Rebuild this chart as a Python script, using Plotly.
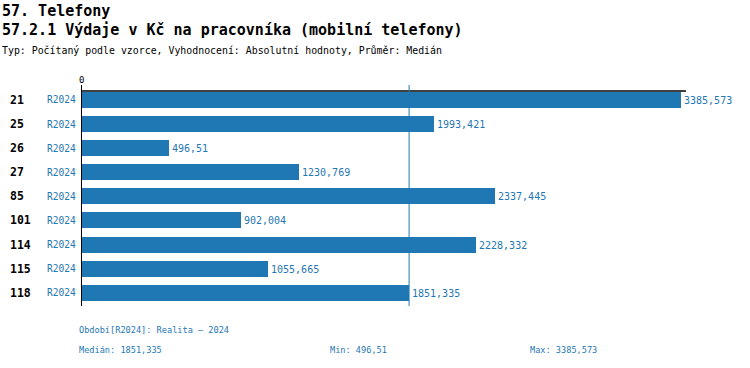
import plotly.graph_objects as go

categories = ["21", "25", "26", "27", "85", "101", "114", "115", "118"]
period_labels = ["R2024"] * 9
values = [3385.573, 1993.421, 496.51, 1230.769, 2337.445, 902.004, 2228.332, 1055.665, 1851.335]
median_value = 1851.335
min_value = 496.51
max_value = 3385.573
x_max = 3414

BLUE = "#1f77b4"
FONT = "DejaVu Sans Mono"

def fmt(v):
    s = ("%.3f" % v).rstrip("0").rstrip(".")
    return s.replace(".", ",")

ypos = list(range(len(categories)))

W0, W1 = 81, 686
T0, T1 = 85.4, 306.2
def px(x):
    return (x - W0) / (W1 - W0)
def py(y):
    return (T1 - y) / (T1 - T0)

fig = go.Figure()
fig.add_trace(go.Bar(
    x=values, y=ypos, orientation="h",
    marker=dict(color=BLUE, line=dict(width=0)),
    width=0.667,
    text=[fmt(v) for v in values],
    textposition="outside",
    textfont=dict(family=FONT, size=10, color=BLUE),
    cliponaxis=False,
    hoverinfo="skip",
))

annotations = []
for i, (c, p) in enumerate(zip(categories, period_labels)):
    annotations.append(dict(x=px(8), xref="paper", y=i, yref="y", text="<b>" + c + "</b>",
                            showarrow=False, xanchor="left", yanchor="middle",
                            font=dict(family=FONT, size=11.5, color="black")))
    annotations.append(dict(x=px(78), xref="paper", y=i, yref="y", text=p, showarrow=False,
                            xanchor="right", yanchor="middle",
                            font=dict(family=FONT, size=9.6, color=BLUE)))

annotations += [
    dict(x=px(81), xref="paper", y=py(87), yref="paper", text="0", showarrow=False, xanchor="center",
         yanchor="bottom", font=dict(family=FONT, size=9, color="black")),
    dict(x=px(0), xref="paper", y=py(0), yref="paper", text="<b>57. Telefony</b>", showarrow=False,
         xanchor="left", yanchor="top", font=dict(family=FONT, size=15, color="black")),
    dict(x=px(0), xref="paper", y=py(19), yref="paper",
         text="<b>57.2.1 Výdaje v Kč na pracovníka (mobilní telefony)</b>", showarrow=False,
         xanchor="left", yanchor="top", font=dict(family=FONT, size=15, color="black")),
    dict(x=px(0), xref="paper", y=py(43), yref="paper",
         text="Typ: Počítaný podle vzorce, Vyhodnocení: Absolutní hodnoty, Průměr: Medián",
         showarrow=False, xanchor="left", yanchor="top",
         font=dict(family=FONT, size=9.9, color="black")),
    dict(x=px(77), xref="paper", y=py(330), yref="paper",
         text="Období[R2024]: Realita – 2024", showarrow=False, xanchor="left", yanchor="middle",
         font=dict(family=FONT, size=8.6, color=BLUE)),
    dict(x=px(77), xref="paper", y=py(350), yref="paper",
         text="Medián: " + fmt(median_value), showarrow=False, xanchor="left", yanchor="middle",
         font=dict(family=FONT, size=8.6, color=BLUE)),
    dict(x=px(328), xref="paper", y=py(350), yref="paper",
         text="Min: " + fmt(min_value), showarrow=False, xanchor="left", yanchor="middle",
         font=dict(family=FONT, size=8.6, color=BLUE)),
    dict(x=px(528), xref="paper", y=py(350), yref="paper",
         text="Max: " + fmt(max_value), showarrow=False, xanchor="left", yanchor="middle",
         font=dict(family=FONT, size=8.6, color=BLUE)),
]

shapes = [
    dict(type="line", xref="x", yref="y", x0=0, x1=x_max, y0=-0.375, y1=-0.375,
         line=dict(color="black", width=1.5)),
    dict(type="line", xref="x", yref="y", x0=0, x1=0, y0=-0.62, y1=8.55,
         line=dict(color="black", width=2)),
    dict(type="line", xref="x", yref="y", x0=median_value, x1=median_value, y0=-0.62, y1=8.55,
         line=dict(color=BLUE, width=1)),
]

fig.update_layout(
    width=750, height=368,
    margin=dict(l=W0, r=750 - W1, t=T0, b=368 - T1, pad=0),
    plot_bgcolor="white", paper_bgcolor="white",
    showlegend=False,
    xaxis=dict(range=[0, x_max], visible=False, showgrid=False, zeroline=False, fixedrange=True),
    yaxis=dict(range=[8.55, -0.62], visible=False, showgrid=False, zeroline=False, fixedrange=True),
    annotations=annotations,
    shapes=shapes,
    bargap=0,
)

fig.write_html("out.html", config={"displayModeBar": False},
               post_script="document.body.style.margin='0';document.body.style.overflow='hidden';")
